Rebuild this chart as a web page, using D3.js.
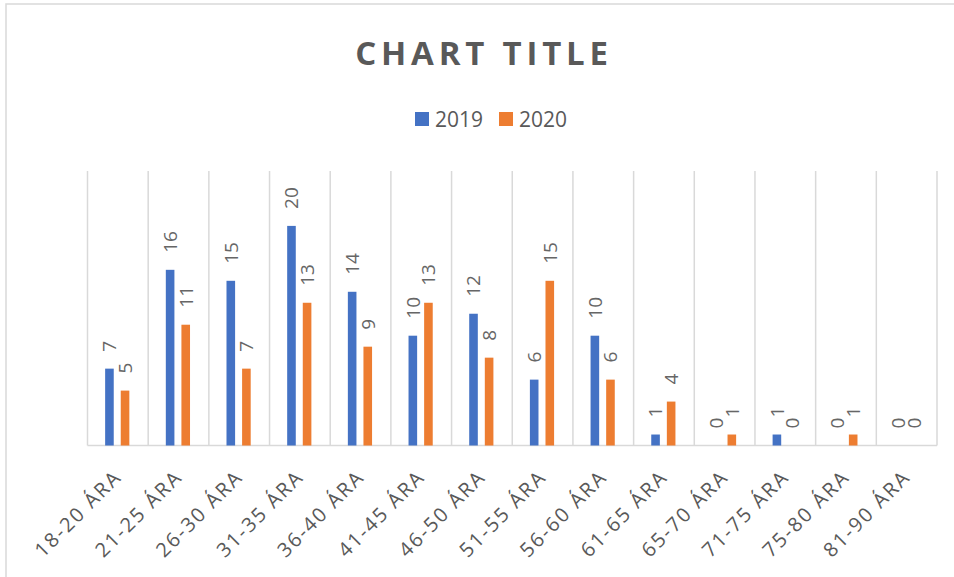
<!DOCTYPE html>
<html lang="en">
<head>
<meta charset="UTF-8">
<title>Chart Title</title>
<script src="https://d3js.org/d3.v7.min.js"></script>
<style>
  body { margin: 0; background: #fff; }
  svg text { font-family: "Open Sans", "Liberation Sans", sans-serif; fill: #595959; }
</style>
</head>
<body>
<svg id="chart" width="954" height="577"></svg>
<script>
// data
var categories = ["18-20 ÁRA", "21-25 ÁRA", "26-30 ÁRA", "31-35 ÁRA", "36-40 ÁRA", "41-45 ÁRA", "46-50 ÁRA",
    "51-55 ÁRA", "56-60 ÁRA", "61-65 ÁRA", "65-70 ÁRA", "71-75 ÁRA", "75-80 ÁRA", "81-90 ÁRA"];
var values2019 = [7, 16, 15, 20, 14, 10, 12, 6, 10, 1, 0, 1, 0, 0];
var values2020 = [5, 11, 7, 13, 9, 13, 8, 15, 6, 4, 1, 0, 1, 0];
var seriesNames = ["2019", "2020"];
var colors = ["#4472C4", "#ED7D31"];

var svg = d3.select("#chart");

// chart border (runs off the right edge like the original)
svg.append("rect")
    .attr("x", 6).attr("y", 4)
    .attr("width", 960).attr("height", 600)
    .attr("fill", "none")
    .attr("stroke", "#d9d9d9")
    .attr("stroke-width", 1.5);

// plot area (don't call these top/left, window.top is read only)
var plotL = 87.5, plotR = 937, plotT = 171, plotB = 445.5;

var x = d3.scaleBand()
    .domain(categories)
    .range([plotL, plotR]);

var y = d3.scaleLinear()
    .domain([0, 25])
    .range([plotB, plotT]);

// vertical gridlines at category edges
var edges = categories.map(function (c) { return x(c); }).concat([plotR]);
svg.append("g")
    .selectAll("line")
    .data(edges)
    .enter()
    .append("line")
    .attr("x1", function (d) { return d; })
    .attr("x2", function (d) { return d; })
    .attr("y1", plotT)
    .attr("y2", plotB)
    .attr("stroke", "#d9d9d9")
    .attr("stroke-width", 1.5);

// baseline
svg.append("line")
    .attr("x1", plotL).attr("x2", plotR)
    .attr("y1", plotB).attr("y2", plotB)
    .attr("stroke", "#d9d9d9")
    .attr("stroke-width", 1.5);

var barW = 8.6;
var offsets = [-8.4, 7.2]; // bar centre offset from category centre

var series = [values2019, values2020];
series.forEach(function (vals, s) {
    var g = svg.append("g");
    var cx = function (i) { return x(categories[i]) + x.bandwidth() / 2 + offsets[s]; };

    g.selectAll("rect")
        .data(vals)
        .enter()
        .append("rect")
        .attr("x", function (d, i) { return cx(i) - barW / 2; })
        .attr("y", function (d) { return y(d); })
        .attr("width", barW)
        .attr("height", function (d) { return plotB - y(d); })
        .attr("fill", colors[s]);

    // rotated value labels
    g.selectAll("text")
        .data(vals)
        .enter()
        .append("text")
        .attr("transform", function (d, i) {
            return "translate(" + cx(i) + "," + (y(d) - 17) + ") rotate(-90)";
        })
        .attr("dy", "0.36em")
        .attr("text-anchor", "start")
        .style("font-size", "19px")
        .style("fill", "#666")
        .text(function (d) { return d; });
});

// category labels at -45 degrees
svg.append("g")
    .selectAll("text")
    .data(categories)
    .enter()
    .append("text")
    .attr("transform", function (d) {
        return "translate(" + (x(d) + x.bandwidth() / 2 + 5) + "," + (plotB + 33) + ") rotate(-45)";
    })
    .attr("text-anchor", "end")
    .style("font-size", "20px")
    .style("letter-spacing", "2px")
    .text(function (d) { return d; });

// title
svg.append("text")
    .attr("x", 484)
    .attr("y", 65)
    .attr("text-anchor", "middle")
    .style("font-size", "33px")
    .style("font-weight", "bold")
    .style("letter-spacing", "4.8px")
    .text("CHART TITLE");

// legend
var legend = svg.append("g")
    .selectAll("g")
    .data(seriesNames)
    .enter()
    .append("g")
    .attr("transform", function (d, i) { return "translate(" + (415 + i * 84) + ",112)"; });

legend.append("rect")
    .attr("width", 14)
    .attr("height", 14)
    .attr("fill", function (d, i) { return colors[i]; });

legend.append("text")
    .attr("x", 20)
    .attr("y", 14.5)
    .style("font-size", "21px")
    .text(function (d) { return d; });
</script>
</body>
</html>
